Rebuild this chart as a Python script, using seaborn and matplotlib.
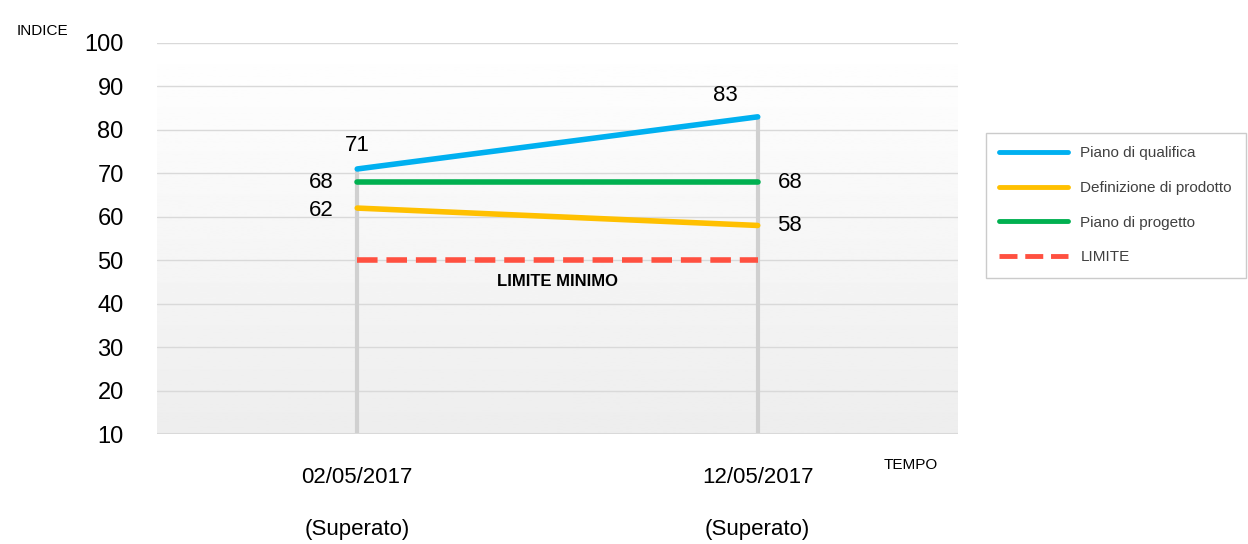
import numpy as np
import pandas as pd
import matplotlib
matplotlib.use("Agg")
import matplotlib.pyplot as plt
import seaborn as sns

dates = ["02/05/2017", "12/05/2017"]
status = ["(Superato)", "(Superato)"]
qualifica = [71, 83]
prodotto = [62, 58]
progetto = [68, 68]
limite = [50, 50]

series = {
    "Piano di qualifica": (qualifica, "#00B0F0", "-"),
    "Definizione di prodotto": (prodotto, "#FFC000", "-"),
    "Piano di progetto": (progetto, "#00B050", "-"),
    "LIMITE": (limite, "#FF5040", "--"),
}

sns.set_style("white")
plt.rcParams["font.family"] = ["Liberation Sans", "DejaVu Sans"]
plt.rcParams["text.color"] = "black"

fig = plt.figure(figsize=(12.48, 5.44), dpi=100)
ax = fig.add_axes([0.1258, 0.2022, 0.6418, 0.7188])

# background gradient: white at top to light grey at bottom
grad = np.linspace(1.0, 0.93, 256).reshape(-1, 1)
ax.imshow(grad, cmap="gray", vmin=0, vmax=1, aspect="auto",
          extent=[-0.5, 1.5, 10, 100], origin="upper", zorder=0)

for y in range(20, 101, 10):
    ax.axhline(y, color="#D9D9D9", lw=1, zorder=1)
for i in range(len(dates)):
    ax.vlines(i, 10, max(qualifica[i], 70), color="#D0D0D0", lw=3, zorder=1)

x = np.arange(len(dates))
for name, (vals, col, ls) in series.items():
    df = pd.DataFrame({"x": x, "y": vals})
    sns.lineplot(data=df, x="x", y="y", ax=ax, color=col, lw=4, linestyle=ls,
                 label=name, zorder=3)

fs = 16
ax.text(0, qualifica[0] + 3, str(qualifica[0]), ha="center", va="bottom", fontsize=fs)
ax.text(1 - 0.08, qualifica[1] + 2.5, str(qualifica[1]), ha="center", va="bottom", fontsize=fs)
ax.text(-0.09, progetto[0], str(progetto[0]), ha="center", va="center", fontsize=fs)
ax.text(1.08, progetto[1], str(progetto[1]), ha="center", va="center", fontsize=fs)
ax.text(-0.09, prodotto[0] - 0.5, str(prodotto[0]), ha="center", va="center", fontsize=fs)
ax.text(1.08, prodotto[1], str(prodotto[1]), ha="center", va="center", fontsize=fs)
ax.text(0.5, 45, "LIMITE MINIMO", ha="center", va="center", fontsize=12, fontweight="bold")

ax.set_xlim(-0.5, 1.5)
ax.set_ylim(10, 100)
ax.set_yticks(range(10, 101, 10))
ax.set_xticks(x)
ax.set_xticklabels([f"{d}\n\n{s}" for d, s in zip(dates, status)], fontsize=fs,
                   linespacing=1.3)
ax.tick_params(axis="y", labelsize=fs + 1, length=0, pad=24, labelcolor="black")
ax.tick_params(axis="x", length=0, pad=24, labelcolor="black")
ax.set_xlabel("")
ax.set_ylabel("")
for sp in ax.spines.values():
    sp.set_visible(False)
ax.axhline(10, color="#D9D9D9", lw=1.5, zorder=2)

fig.text(0.013, 0.935, "INDICE", fontsize=11)
fig.text(0.708, 0.138, "TEMPO", fontsize=11)

leg = ax.legend(loc="upper left", bbox_to_anchor=(1.025, 0.79), frameon=True,
                fontsize=11, handlelength=4.5, labelspacing=1.35, borderpad=0.9,
                fancybox=False, edgecolor="#BFBFBF", labelcolor="#404040")
for line in leg.get_lines():
    line.set_linewidth(3.5)

fig.savefig("out.png", dpi=100)
